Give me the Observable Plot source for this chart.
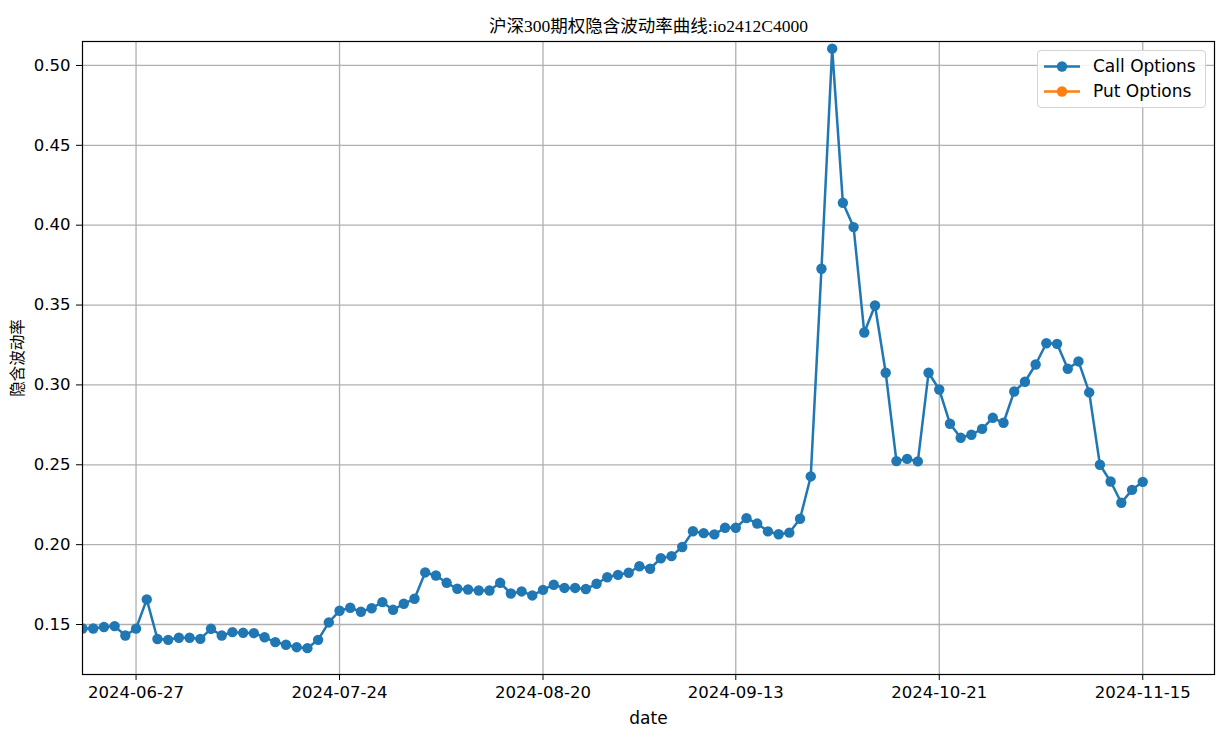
<!DOCTYPE html>
<html>
<head>
<meta charset="utf-8">
<script src="https://cdn.jsdelivr.net/npm/d3@7"></script>
<script src="https://cdn.jsdelivr.net/npm/@observablehq/plot@0.6"></script>
<style>
  html, body { margin: 0; padding: 0; background: white; overflow: hidden; }
  #wrap { position: relative; width: 1228px; height: 741px; }
  #legend {
    position: absolute; left: 1037px; top: 50px; width: 167px; height: 56px;
    border: 1px solid #d4d4d4; border-radius: 4px; background: rgba(255,255,255,0.85);
    font-family: "DejaVu Sans", sans-serif; font-size: 17px; color: #000;
  }
  .row { position: absolute; left: 0; height: 24px; width: 167px; }
  .row svg { position: absolute; left: 6px; top: 0; }
  .row span { position: absolute; left: 55px; top: 0px; line-height: 22px; }
</style>
</head>
<body>
<div id="wrap"></div>
<script>
// ---- data ----
const title = "沪深300期权隐含波动率曲线:io2412C4000";
const xLabel = "date";
const yLabel = "隐含波动率";
const seriesNames = ["Call Options", "Put Options"];
const seriesColors = ["#1f77b4", "#ff7f0e"];

const dates = [
  "2024-06-20","2024-06-21","2024-06-24","2024-06-25","2024-06-26","2024-06-27","2024-06-28",
  "2024-07-01","2024-07-02","2024-07-03","2024-07-04","2024-07-05","2024-07-08","2024-07-09","2024-07-10","2024-07-11","2024-07-12",
  "2024-07-15","2024-07-16","2024-07-17","2024-07-18","2024-07-19","2024-07-22","2024-07-23","2024-07-24","2024-07-25","2024-07-26",
  "2024-07-29","2024-07-30","2024-07-31",
  "2024-08-01","2024-08-02","2024-08-05","2024-08-06","2024-08-07","2024-08-08","2024-08-09","2024-08-12","2024-08-13","2024-08-14",
  "2024-08-15","2024-08-16","2024-08-19","2024-08-20","2024-08-21","2024-08-22","2024-08-23","2024-08-26","2024-08-27","2024-08-28",
  "2024-08-29","2024-08-30",
  "2024-09-02","2024-09-03","2024-09-04","2024-09-05","2024-09-06","2024-09-09","2024-09-10","2024-09-11","2024-09-12","2024-09-13",
  "2024-09-18","2024-09-19","2024-09-20","2024-09-23","2024-09-24","2024-09-25","2024-09-26","2024-09-27","2024-09-30",
  "2024-10-08","2024-10-09","2024-10-10","2024-10-11","2024-10-14","2024-10-15","2024-10-16","2024-10-17","2024-10-18","2024-10-21",
  "2024-10-22","2024-10-23","2024-10-24","2024-10-25","2024-10-28","2024-10-29","2024-10-30","2024-10-31",
  "2024-11-01","2024-11-04","2024-11-05","2024-11-06","2024-11-07","2024-11-08","2024-11-11","2024-11-12","2024-11-13","2024-11-14","2024-11-15"
];

const callIV = [
  0.1475,0.1475,0.1484,0.1490,0.1431,0.1474,0.1657,0.1409,0.1404,0.1417,
  0.1417,0.1410,0.1473,0.1431,0.1452,0.1448,0.1446,0.1420,0.1390,0.1373,
  0.1358,0.1352,0.1404,0.1513,0.1586,0.1605,0.1580,0.1602,0.1640,0.1592,
  0.1630,0.1661,0.1826,0.1807,0.1761,0.1724,0.1719,0.1713,0.1713,0.1761,
  0.1694,0.1707,0.1682,0.1717,0.1749,0.1729,0.1729,0.1722,0.1755,0.1796,
  0.1811,0.1824,0.1865,0.1849,0.1915,0.1928,0.1985,0.2084,0.2072,0.2064,
  0.2106,0.2106,0.2166,0.2132,0.2083,0.2065,0.2075,0.2162,0.2427,0.3727,
  0.5105,0.4140,0.3988,0.3328,0.3497,0.3076,0.2523,0.2537,0.2521,0.3076,
  0.2971,0.2757,0.2669,0.2688,0.2725,0.2794,0.2763,0.2959,0.3020,0.3128,
  0.3261,0.3257,0.3101,0.3147,0.2953,0.2500,0.2395,0.2262,0.2343,0.2393
];

const putIV = []; // no put data drawn in the reference

const xTickDates = ["2024-06-27","2024-07-24","2024-08-20","2024-09-13","2024-10-21","2024-11-15"];
const yTicks = [0.15, 0.20, 0.25, 0.30, 0.35, 0.40, 0.45, 0.50];

// ---- build ----
const callData = dates.map((d, i) => ({i, date: d, iv: callIV[i]}));
const xTicks = xTickDates.map(d => dates.indexOf(d));
const gridColor = "#b0b0b0";

const chart = Plot.plot({
  width: 1228,
  height: 741,
  marginLeft: 82,
  marginRight: 14,
  marginTop: 41,
  marginBottom: 67,
  style: {fontFamily: "DejaVu Sans, sans-serif", fontSize: "16.5px", background: "white", color: "black"},
  x: {domain: [0, 105.7], ticks: xTicks, tickFormat: i => dates[i], tickSize: 6, tickPadding: 6, label: null},
  y: {domain: [0.1187, 0.515], ticks: yTicks, tickFormat: d => d.toFixed(2), tickSize: 6, tickPadding: 6, label: null},
  marks: [
    Plot.ruleX(xTicks, {stroke: gridColor, strokeWidth: 1.3}),
    Plot.ruleY(yTicks, {stroke: gridColor, strokeWidth: 1.3}),
    Plot.line(callData, {x: "i", y: "iv", stroke: seriesColors[0], strokeWidth: 2.5, clip: true}),
    Plot.dot(callData, {x: "i", y: "iv", r: 5.2, fill: seriesColors[0], stroke: "none", clip: true}),
    Plot.frame({stroke: "black", strokeWidth: 1.2}),
    Plot.text([title], {text: d => d, frameAnchor: "top", lineAnchor: "middle", textAnchor: "middle", dy: -15.5,
      fontFamily: "Liberation Serif, 'Noto Sans CJK SC', serif", fontSize: 17.5}),
    Plot.text([xLabel], {text: d => d, frameAnchor: "bottom", lineAnchor: "middle", textAnchor: "middle", dy: 44, fontSize: 17}),
    Plot.text([yLabel], {text: d => d, frameAnchor: "left", lineAnchor: "middle", textAnchor: "middle", dx: -64, rotate: -90,
      fontFamily: "'Noto Sans CJK SC', sans-serif", fontSize: 15.5})
  ]
});

const wrap = document.getElementById("wrap");
wrap.appendChild(chart);

// legend
const legend = document.createElement("div");
legend.id = "legend";
seriesNames.forEach((name, k) => {
  const row = document.createElement("div");
  row.className = "row";
  row.style.top = (4 + k * 24.5) + "px";
  row.innerHTML = `<svg width="40" height="24"><line x1="0" y1="11.5" x2="36" y2="11.5" stroke="${seriesColors[k]}" stroke-width="2.5"/><circle cx="18" cy="11.5" r="5.2" fill="${seriesColors[k]}"/></svg><span>${name}</span>`;
  legend.appendChild(row);
});
wrap.appendChild(legend);
</script>
</body>
</html>
